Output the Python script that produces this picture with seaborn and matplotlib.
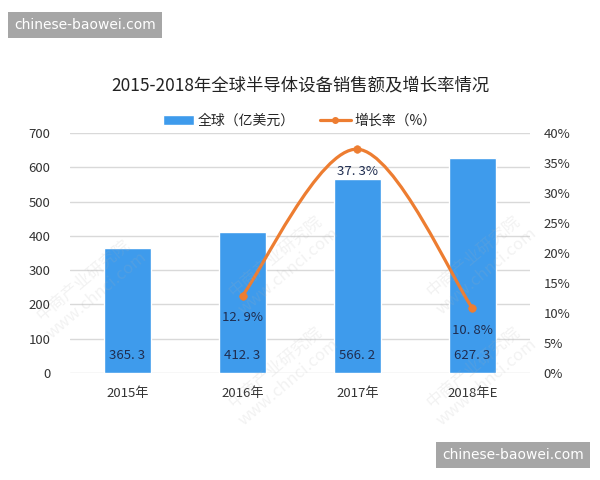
import matplotlib
matplotlib.use("Agg")
import matplotlib.pyplot as plt
import seaborn as sns
import numpy as np
from matplotlib.path import Path
from matplotlib.patches import PathPatch, Rectangle
from matplotlib.lines import Line2D

years = ["2015年", "2016年", "2017年", "2018年E"]
sales = [365.3, 412.3, 566.2, 627.3]
growth_years = ["2016年", "2017年", "2018年E"]
growth = [12.9, 37.3, 10.8]
left_ticks = [0, 100, 200, 300, 400, 500, 600, 700]
right_ticks = [0, 5, 10, 15, 20, 25, 30, 35, 40]
title = "2015-2018年全球半导体设备销售额及增长率情况"
legend_labels = ["全球（亿美元）", "增长率（%）"]

sns.set_theme(style="white")
plt.rcParams['font.family'] = ['Noto Sans CJK SC', 'DejaVu Sans']

BLUE = "#3E9BEC"
ORANGE = "#ED7D31"
LABEL = "#1F2D50"

fig = plt.figure(figsize=(6, 4.8), dpi=100)
ax = fig.add_axes([0.1167, 0.2229, 0.7666, 0.5])

sns.barplot(x=years, y=sales, color=BLUE, width=0.41, ax=ax, saturation=1)
ax.set_xlim(-0.5, 3.5)
ax.set_ylim(0, 700)
ax.set_yticks(left_ticks)
ax.yaxis.grid(True, color="#D9D9D9", linewidth=1)
ax.set_axisbelow(True)
for s in ax.spines.values():
    s.set_visible(False)
ax.tick_params(axis='both', length=0, labelsize=9.5, colors="#333333")
ax.tick_params(axis='x', pad=10)
ax.tick_params(axis='y', pad=14)

for i, v in enumerate(sales):
    ax.text(i, 50, f"{v:.1f}".replace(".", ". "), ha="center", va="center",
            fontsize=9.5, color=LABEL)

ax2 = ax.twinx()
ax2.set_ylim(0, 40)
ax2.set_yticks(right_ticks)
ax2.set_yticklabels([f"{t}%" for t in right_ticks])
for s in ax2.spines.values():
    s.set_visible(False)
ax2.tick_params(axis='y', length=0, labelsize=9.5, colors="#333333", pad=10)

# smooth curve (Bezier through the data points)
xs = [years.index(y) for y in growth_years]
pts = np.array(list(zip(xs, growth)), dtype=float)
n = len(pts)
verts = [tuple(pts[0])]
codes = [Path.MOVETO]
for i in range(n - 1):
    p_prev = pts[max(i - 1, 0)]
    p0 = pts[i]
    p1 = pts[i + 1]
    p_next = pts[min(i + 2, n - 1)]
    c1 = p0 + (p1 - p_prev) / 6
    c2 = p1 - (p_next - p0) / 6
    verts += [tuple(c1), tuple(c2), tuple(p1)]
    codes += [Path.CURVE4] * 3
ax2.add_patch(PathPatch(Path(verts, codes), facecolor="none", edgecolor=ORANGE,
                        linewidth=2.3, capstyle="round"))
sns.scatterplot(x=xs, y=growth, color=ORANGE, s=30, edgecolor=ORANGE, ax=ax2, zorder=5)
ax2.set_xlim(-0.5, 3.5)

for x, g in zip(xs, growth):
    ax2.text(x, g - 3.7, f"{g:.1f}%".replace(".", ". "), ha="center", va="center",
             fontsize=9.5, color=LABEL)

fig.text(0.5, 1 - 85 / 480, title, ha="center", va="center", fontsize=12.5, color="#222222")

handles = [Rectangle((0, 0), 1, 1, facecolor=BLUE),
           Line2D([0], [0], color=ORANGE, lw=2.3, marker="o", markersize=4)]
fig.legend(handles, legend_labels, loc="center", bbox_to_anchor=(0.5, 1 - 121 / 480),
           ncol=2, frameon=False, fontsize=10, handlelength=2.2, columnspacing=1.8,
           handletextpad=0.3)

# faint watermarks
for (wx, wy) in [(0.15, 0.40), (0.47, 0.45), (0.80, 0.45), (0.47, 0.22), (0.80, 0.22)]:
    fig.text(wx, wy, "中商产业研究院\nwww.chnci.com", rotation=40, ha="center", va="center",
             fontsize=12, color="#B0B0B0", alpha=0.16, zorder=0)

# site badges
fig.text(14 / 600, 1 - 25 / 480, "chinese-baowei.com", ha="left", va="center", fontsize=10,
         color="white", family=["DejaVu Sans"],
         bbox=dict(boxstyle="square,pad=0.45", facecolor="#A6A6A6", edgecolor="none"))
fig.text(584 / 600, 1 - 455 / 480, "chinese-baowei.com", ha="right", va="center", fontsize=10,
         color="white", family=["DejaVu Sans"],
         bbox=dict(boxstyle="square,pad=0.45", facecolor="#A6A6A6", edgecolor="none"))

fig.savefig("out.png", dpi=100, facecolor="white")
